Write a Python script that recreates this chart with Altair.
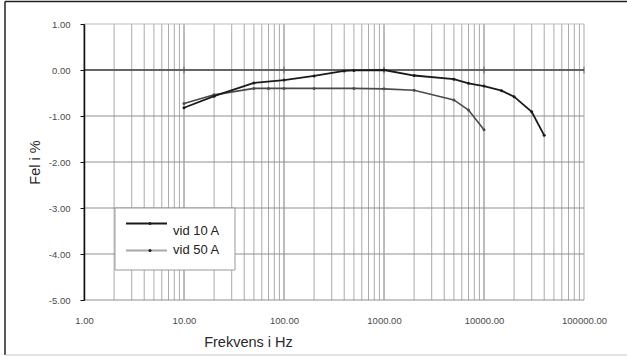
import altair as alt
import pandas as pd

# Measured error of the transformer versus frequency, two test currents
freq_10a = [10, 20, 50, 100, 200, 400, 500, 1000, 2000, 5000, 7000, 10000, 15000, 20000, 30000, 40000]
err_10a = [-0.82, -0.57, -0.28, -0.22, -0.13, -0.02, -0.01, 0.00, -0.12, -0.20, -0.29, -0.35, -0.45, -0.58, -0.91, -1.42]

freq_50a = [10, 20, 50, 70, 100, 200, 500, 1000, 2000, 5000, 7000, 10000]
err_50a = [-0.73, -0.54, -0.40, -0.40, -0.40, -0.40, -0.40, -0.41, -0.44, -0.65, -0.87, -1.30]

series_names = ["vid 10 A", "vid 50 A"]
x_tick_values = [1, 10, 100, 1000, 10000, 100000]
y_tick_values = [-5, -4, -3, -2, -1, 0, 1]
decades = [1, 10, 100, 1000, 10000]
multipliers = [1, 2, 3, 4, 5, 6, 7, 8, 9]

W, H = 500, 276
FONT = "Liberation Sans"

xs = alt.Scale(type="log", domain=[1, 100000], nice=False)
ys = alt.Scale(domain=[-5, 1], nice=False)

x_axis = alt.Axis(
    values=x_tick_values, format=".2f", grid=False, domain=False, ticks=False,
    tickSize=0, labelPadding=15, labelFont=FONT, labelFontSize=9.5,
    labelColor="#4a4a4a", labelOverlap=False, labelFlush=False,
    title="Frekvens i Hz", titleFont=FONT, titleFontSize=14.5,
    titleFontWeight="normal", titleColor="#2a2a2a", titleX=164, titleY=46,
    titleBaseline="alphabetic", titleAlign="center",
)
# plain hyphen for negative labels
y_axis = alt.Axis(
    values=y_tick_values, grid=False, domainColor="#111",
    labelExpr="(datum.value < 0 ? '-' : '') + format(abs(datum.value), '.2f')",
    domainWidth=1.5, tickColor="#111", tickSize=4, labelPadding=10,
    labelFont=FONT, labelFontSize=9.5, labelColor="#4a4a4a",
    title="Fel i %", titleFont=FONT, titleFontSize=14.5,
    titleFontWeight="normal", titleColor="#2a2a2a", titleX=-49, titleY=H / 2,
    titleBaseline="middle", titleAlign="center", zindex=1,
)

# Log grid: decade lines, the 2..9 subdivisions, and the right edge
grid_f, grid_kind = [], []
for d in decades:
    for m in multipliers:
        grid_f.append(d * m)
        grid_kind.append("major" if m == 1 else "minor")
grid_f.append(100000)
grid_kind.append("edge")
vgrid_df = pd.DataFrame({"f": grid_f, "kind": grid_kind})

vgrid = alt.Chart(vgrid_df).mark_rule(strokeWidth=1).encode(
    x=alt.X("f:Q", scale=xs, axis=x_axis),
    color=alt.condition(
        alt.datum.kind == "major", alt.value("#7a7a7a"),
        alt.value("#ababab"),
    ),
)

hgrid = alt.Chart(pd.DataFrame({"v": y_tick_values})).mark_rule(strokeWidth=1).encode(
    y=alt.Y("v:Q", scale=ys, axis=y_axis),
    color=alt.condition(alt.datum.v == 1, alt.value("#bdbdbd"), alt.value("#8f8f8f")),
)

zero_line = alt.Chart(pd.DataFrame({"v": [0]})).mark_rule(
    color="#444", strokeWidth=1.3
).encode(y=alt.Y("v:Q", scale=ys, axis=y_axis))

zero_ticks = alt.Chart(pd.DataFrame({"f": x_tick_values[1:], "v": [0] * 5})).mark_tick(
    orient="vertical", size=7, thickness=1, color="#444"
).encode(
    x=alt.X("f:Q", scale=xs, axis=x_axis),
    y=alt.Y("v:Q", scale=ys, axis=y_axis),
)


def curve(freqs, errs, color, width):
    df = pd.DataFrame({"f": freqs, "e": errs})
    return alt.Chart(df).mark_line(
        color=color, strokeWidth=width,
        point=alt.OverlayMarkDef(filled=True, size=9, color=color),
    ).encode(
        x=alt.X("f:Q", scale=xs, axis=x_axis),
        y=alt.Y("e:Q", scale=ys, axis=y_axis),
    )


line_10a = curve(freq_10a, err_10a, "#1a1a1a", 1.8)
line_50a = curve(freq_50a, err_50a, "#4a4a4a", 1.6)

# Legend box with the two sample lines
one = pd.DataFrame({"k": [0]})
legend_box = alt.Chart(one).mark_rect(fill="white", stroke="#9a9a9a", strokeWidth=1).encode(
    x=alt.value(31), x2=alt.value(151), y=alt.value(184), y2=alt.value(246)
)


def legend_entry(name, color, width, y_line, y_text):
    sample = alt.Chart(one).mark_rule(color=color, strokeWidth=width).encode(
        x=alt.value(42), x2=alt.value(83), y=alt.value(y_line)
    )
    dot = alt.Chart(one).mark_point(filled=True, size=9, color="#1e1e1e", opacity=1).encode(
        x=alt.value(66), y=alt.value(y_line)
    )
    label = alt.Chart(pd.DataFrame({"label": [name]})).mark_text(
        font=FONT, fontSize=13, color="#222", align="left", baseline="alphabetic"
    ).encode(x=alt.value(89), y=alt.value(y_text), text="label:N")
    return sample + dot + label


legend_10a = legend_entry(series_names[0], "#1a1a1a", 2, 199.5, 210.5)
legend_50a = legend_entry(series_names[1], "#a8a8a8", 2, 226.5, 229.5)

# Outer frame around the whole figure
frame_top = alt.Chart(one).mark_rule(color="#222", strokeWidth=1.5).encode(
    x=alt.value(-79), x2=alt.value(560), y=alt.value(-22.5)
)
frame_left = alt.Chart(one).mark_rule(color="#222", strokeWidth=1.5).encode(
    x=alt.value(-79), y=alt.value(-22.5), y2=alt.value(331)
)
frame_bottom = alt.Chart(one).mark_rule(color="#c8c8c8", strokeWidth=1.2).encode(
    x=alt.value(-79), x2=alt.value(560), y=alt.value(331)
)

chart = alt.layer(
    vgrid, hgrid, zero_line, zero_ticks, line_50a, line_10a,
    legend_box, legend_10a, legend_50a,
    frame_top, frame_left, frame_bottom,
).properties(
    width=W, height=H,
    autosize=alt.AutoSizeParams(type="none"),
    padding={"left": 84, "top": 24, "right": 43, "bottom": 56},
    background="white",
).configure_view(stroke=None)

chart.save("out.html", embed_options={"renderer": "svg", "actions": False})
